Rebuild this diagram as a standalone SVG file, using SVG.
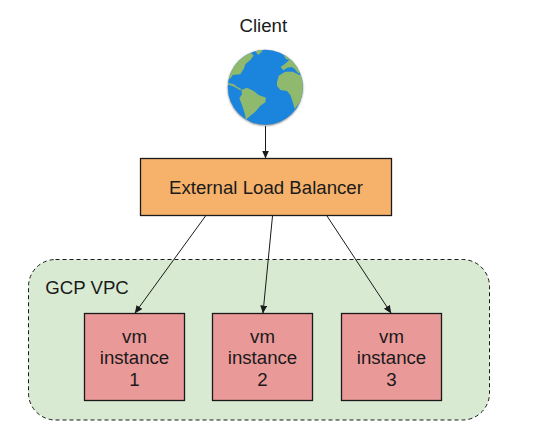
<svg xmlns="http://www.w3.org/2000/svg" width="534" height="429" viewBox="0 0 534 429">
<style>
text{font-family:"Liberation Sans",Arial,sans-serif;font-size:18.67px;fill:#1a1a1a;text-anchor:middle}
.vm{fill:#ea9999;stroke:#1a1a1a;stroke-width:1.3}
.c{stroke:#1a1a1a;stroke-width:1;fill:none;marker-end:url(#a)}
.land{fill:#8fb96c}
</style>
<defs>
<marker id="a" markerUnits="userSpaceOnUse" markerWidth="10" markerHeight="10" refX="7.5" refY="3.5" orient="auto"><path d="M0 0L8 3.5L0 7Z" fill="#1a1a1a"/></marker>
<clipPath id="g"><circle cx="130" cy="127" r="112.5"/></clipPath>
<filter id="s" x="-10%" y="-10%" width="120%" height="120%"><feGaussianBlur stdDeviation="1"/></filter>
</defs>
<rect width="534" height="429" fill="#fff"/>
<g id="vpc">
<rect x="28.5" y="259.5" width="461" height="160.5" rx="27" fill="#d9ead3" stroke="#1a1a1a" stroke-width="1" stroke-dasharray="4 3"/>
<text x="87" y="294.3">GCP VPC</text>
</g>
<g id="client">
<text x="263.3" y="31.7">Client</text>
<circle cx="265.3" cy="88" r="37.5" fill="#777" filter="url(#s)"/>
<g transform="translate(222 45) scale(.33333)">
<circle cx="130" cy="127" r="112.5" fill="#1b84dc"/>
<g clip-path="url(#g)" class="land">
<path d="M100 10L85 22L95 32L85 45L70 58L65 72L55 88L32 90L26 100L14 104L5 60L60 5Z"/>
<path d="M100 18L108 30L120 20L122 8L100 8Z"/>
<path d="M14 113L35 118L45 125L58 132L55 136L42 128L30 122L14 118Z"/>
<path d="M58 135L75 128L95 138L110 150L132 158L130 172L115 182L100 200L85 212L72 224L68 205L60 180L52 160L60 148Z"/>
<path d="M183 28L192 42L202 44L192 54L176 66L184 76L196 68L210 66L218 72L228 84L250 84L220 40L195 20Z"/>
<path d="M165 112L170 92L190 80L212 80L228 88L250 96L250 150L218 192L212 170L205 150L195 138L175 135L165 122Z"/>
</g>
</g>
</g>
<g id="lb">
<rect x="140.5" y="158.5" width="251" height="57" fill="#f6b26b" stroke="#1a1a1a" stroke-width="1.3"/>
<text x="266" y="194">External Load Balancer</text>
</g>
<g id="vm1">
<rect class="vm" x="84.5" y="313.5" width="100" height="87"/>
<text x="134.5" y="342.5">vm</text><text x="134.5" y="364">instance</text><text x="134.5" y="386">1</text>
</g>
<g id="vm2">
<rect class="vm" x="212.5" y="313.5" width="100" height="87"/>
<text x="262.5" y="342.5">vm</text><text x="262.5" y="364">instance</text><text x="262.5" y="386">2</text>
</g>
<g id="vm3">
<rect class="vm" x="341.5" y="313.5" width="100" height="87"/>
<text x="391.5" y="342.5">vm</text><text x="391.5" y="364">instance</text><text x="391.5" y="386">3</text>
</g>
<g id="connectors">
<line class="c" x1="265.5" y1="126" x2="265.5" y2="158"/>
<line class="c" x1="205.5" y1="216" x2="135" y2="313"/>
<line class="c" x1="272.5" y1="216" x2="263" y2="313"/>
<line class="c" x1="327" y1="216" x2="391" y2="313"/>
</g>
</svg>
